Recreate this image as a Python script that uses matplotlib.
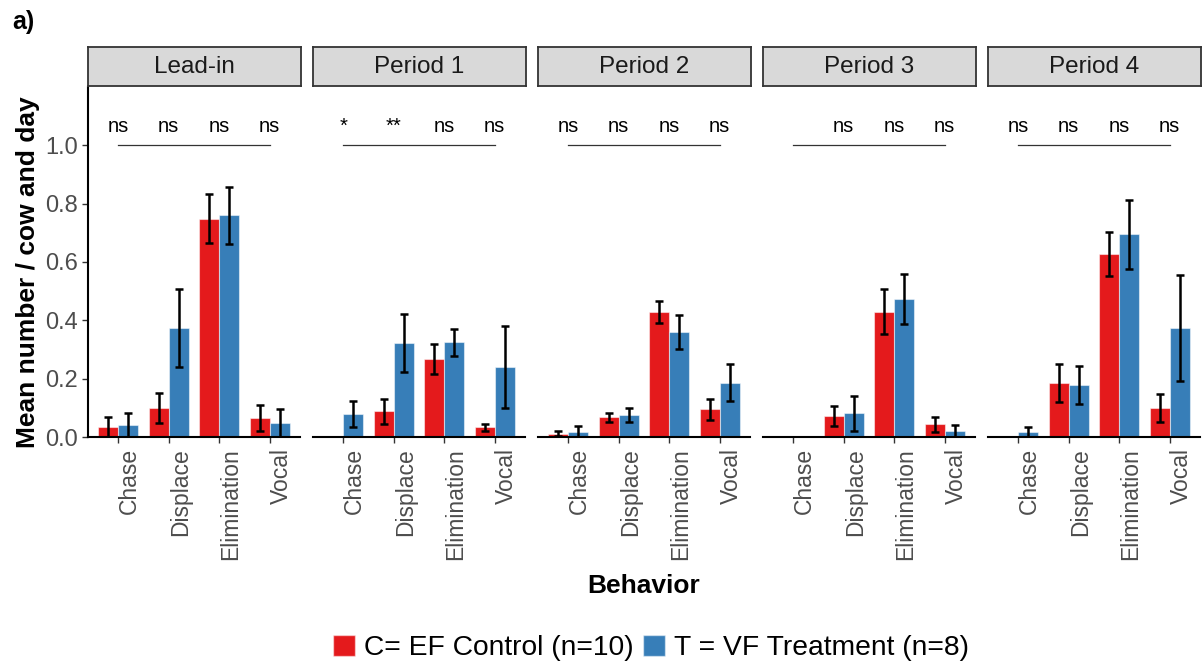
import numpy as np
import matplotlib
matplotlib.use('Agg')
import matplotlib.pyplot as plt
from matplotlib.patches import Patch

plt.rcParams['font.family'] = ['Liberation Sans', 'DejaVu Sans']

periods = ['Lead-in', 'Period 1', 'Period 2', 'Period 3', 'Period 4']
behaviors = ['Chase', 'Displace', 'Elimination', 'Vocal']
nan = np.nan

# C = EF Control (n=10)
control_mean = [[0.034, 0.100, 0.749, 0.065],
                [nan, 0.089, 0.267, 0.033],
                [0.012, 0.067, 0.430, 0.095],
                [nan, 0.072, 0.430, 0.043],
                [nan, 0.186, 0.627, 0.100]]
control_se = [[0.034, 0.052, 0.083, 0.045],
              [nan, 0.043, 0.051, 0.011],
              [0.010, 0.017, 0.038, 0.035],
              [nan, 0.034, 0.078, 0.025],
              [nan, 0.065, 0.075, 0.049]]

# T = VF Treatment (n=8)
treat_mean = [[0.041, 0.374, 0.760, 0.047],
              [0.079, 0.322, 0.325, 0.240],
              [0.018, 0.075, 0.360, 0.186],
              [nan, 0.081, 0.473, 0.020],
              [0.017, 0.177, 0.695, 0.375]]
treat_se = [[0.042, 0.133, 0.097, 0.048],
            [0.043, 0.099, 0.046, 0.142],
            [0.020, 0.025, 0.058, 0.063],
            [nan, 0.061, 0.087, 0.020],
            [0.017, 0.065, 0.119, 0.182]]

signif = [['ns', 'ns', 'ns', 'ns'],
          ['*', '**', 'ns', 'ns'],
          ['ns', 'ns', 'ns', 'ns'],
          ['', 'ns', 'ns', 'ns'],
          ['ns', 'ns', 'ns', 'ns']]

RED = '#E41A1C'
BLUE = '#377EB8'
GREY = '#4D4D4D'

W, H = 1202, 668
fig = plt.figure(figsize=(W / 100, H / 100), dpi=100)

panel_x = [88, 313, 538, 763, 988]
panel_w = 212
top, bottom = 87, 437
x = np.arange(1, 5)
bw = 0.4

for i, period in enumerate(periods):
    ax = fig.add_axes([panel_x[i] / W, 1 - bottom / H, panel_w / W, (bottom - top) / H])
    ax.bar(x - bw / 2, control_mean[i], bw, color=RED, edgecolor=(1, 1, 1, 0.5), linewidth=0.8)
    ax.bar(x + bw / 2, treat_mean[i], bw, color=BLUE, edgecolor=(1, 1, 1, 0.5), linewidth=0.8)
    ax.errorbar(x - bw / 2, control_mean[i], yerr=control_se[i], fmt='none',
                ecolor='black', elinewidth=1.8, capsize=3.2, capthick=1.8)
    ax.errorbar(x + bw / 2, treat_mean[i], yerr=treat_se[i], fmt='none',
                ecolor='black', elinewidth=1.8, capsize=3.2, capthick=1.8)

    # significance bracket
    ax.plot([1, 4], [1.0, 1.0], color='#333333', linewidth=0.9)
    for j, lab in enumerate(signif[i]):
        ax.text(x[j], 1.045, lab, ha='center', va='baseline', fontsize=14.5, color='black')

    ax.set_xlim(0.4, 4.6)
    ax.set_ylim(0, 1.2)
    ax.set_xticks(x)
    ax.set_xticklabels(behaviors, rotation=90, ha='left', fontsize=16.5, color=GREY)
    ax.tick_params(axis='x', length=4, width=1, color='#333333', pad=4)
    for s in ['top', 'right']:
        ax.spines[s].set_visible(False)
    ax.spines['bottom'].set_linewidth(1.5)
    if i == 0:
        ax.set_yticks([0, 0.2, 0.4, 0.6, 0.8, 1.0])
        ax.set_yticklabels(['0.0', '0.2', '0.4', '0.6', '0.8', '1.0'], fontsize=17, color=GREY)
        ax.tick_params(axis='y', length=4, width=1, color='#333333', pad=3)
        ax.spines['left'].set_linewidth(1.5)
    else:
        ax.spines['left'].set_visible(False)
        ax.set_yticks([])

    # facet strip
    sax = fig.add_axes([panel_x[i] / W, 1 - 86 / H, (panel_w + 1) / W, 39 / H])
    sax.set_facecolor('#D9D9D9')
    sax.set_xticks([])
    sax.set_yticks([])
    for s in sax.spines.values():
        s.set_linewidth(1.3)
        s.set_color('#333333')
    sax.text(0.5, 0.48, period, ha='center', va='center', fontsize=17.5, color='#1A1A1A',
             transform=sax.transAxes)

fig.text(28 / W, 1 - 272 / H, 'Mean number / cow and day', rotation=90, ha='center', va='center',
         fontsize=19, fontweight='bold')
fig.text(644 / W, 1 - 586 / H, 'Behavior', ha='center', va='center', fontsize=19, fontweight='bold')
fig.text(12 / W, 1 - 22 / H, 'a)', ha='left', va='center', fontsize=18, fontweight='bold')

handles = [Patch(facecolor=RED, edgecolor=(1, 1, 1, 0.5)), Patch(facecolor=BLUE, edgecolor=(1, 1, 1, 0.5))]
fig.legend(handles, ['C= EF Control (n=10)', 'T = VF Treatment (n=8)'], loc='center',
           bbox_to_anchor=(651 / W, 1 - 648 / H), ncol=2, frameon=False, fontsize=20.3,
           handlelength=0.78, handleheight=0.78, handletextpad=0.3, columnspacing=0.35)

fig.savefig('out.png', dpi=100)
